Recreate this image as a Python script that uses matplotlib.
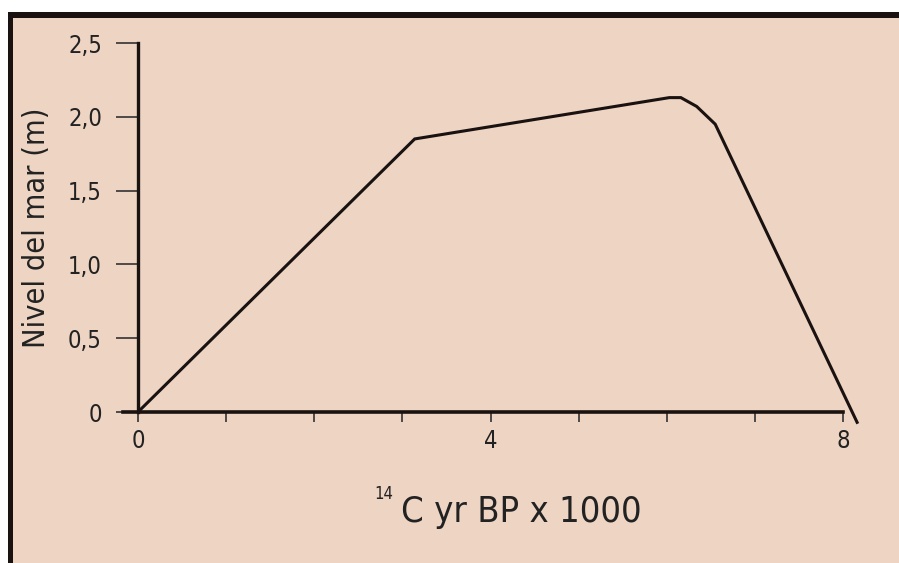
import matplotlib
matplotlib.use("Agg")
import matplotlib.pyplot as plt
from matplotlib import font_manager
from matplotlib.patches import Rectangle

# curva del nivel del mar
edad = [0, 3.14, 6.03, 6.16, 6.34, 6.55, 8.16]
nivel = [0, 1.85, 2.13, 2.13, 2.07, 1.95, -0.07]

xticks = [0, 1, 2, 3, 4, 5, 6, 7, 8]
xlabels = ["0", "", "", "", "4", "", "", "", "8"]
yticks = [0, 0.5, 1.0, 1.5, 2.0, 2.5]
ylabels = ["0", "0,5", "1,0", "1,5", "2,0", "2,5"]

try:
    font_manager.findfont("Liberation Sans Narrow", fallback_to_default=False)
    fuente = dict(family="Liberation Sans Narrow")
except Exception:
    fuente = dict(family="DejaVu Sans", stretch="condensed")

W, H = 899, 563
fondo = "#EED4C3"
negro = "#1a1210"

fig = plt.figure(figsize=(W / 100, H / 100), dpi=100, facecolor="white")

def px(x, y):
    return x / W, 1 - y / H

# marco
fig.patches.append(Rectangle(px(13, 563), (W - 13) / W, (563 - 18) / H,
                             transform=fig.transFigure, facecolor=fondo, edgecolor="none", zorder=-2))
fig.patches.append(Rectangle(px(8, 563), 5 / W, (563 - 12) / H,
                             transform=fig.transFigure, facecolor=negro, edgecolor="none", zorder=-1))
fig.patches.append(Rectangle(px(8, 18), (W - 8) / W, 6 / H,
                             transform=fig.transFigure, facecolor=negro, edgecolor="none", zorder=-1))

ux = (843 - 138) / 8
uy = (412 - 43) / 2.5
x0, x1 = -0.2, 8.2
y0, y1 = -0.1, 2.55
left = (138 + x0 * ux) / W
width = (x1 - x0) * ux / W
bottom = (563 - (412 - y0 * uy)) / H
height = (y1 - y0) * uy / H
ax = fig.add_axes([left, bottom, width, height])
ax.set_zorder(2)
ax.set_facecolor("none")
ax.set_xlim(x0, x1)
ax.set_ylim(y0, y1)

ax.plot(edad, nivel, color=negro, lw=2.2, clip_on=False, solid_joinstyle="miter")

for s in ["top", "right"]:
    ax.spines[s].set_visible(False)
ax.spines["left"].set_position(("data", 0))
ax.spines["bottom"].set_position(("data", 0))
ax.spines["left"].set_bounds(0, 2.5)
ax.spines["bottom"].set_bounds(-0.17, 8)
ax.spines["left"].set_linewidth(2.4)
ax.spines["bottom"].set_linewidth(2.6)
ax.spines["left"].set_color(negro)
ax.spines["bottom"].set_color(negro)

ax.set_xticks(xticks)
ax.set_xticklabels(xlabels, fontsize=17, color="#222222", **fuente)
ax.set_yticks(yticks)
ax.set_yticklabels(ylabels, fontsize=17, color="#222222", **fuente)
ax.tick_params(axis="x", direction="out", length=7, width=1.2, color="#333333", pad=5)
ax.tick_params(axis="y", direction="out", length=16, width=1.2, color="#333333", pad=10)

fig.text(*px(37, 228), "Nivel del mar (m)", rotation=90, ha="center", va="center",
         fontsize=22, color="#222222", **fuente)
fig.text(*px(374, 499), "14", ha="left", va="baseline", fontsize=12, color="#222222", **fuente)
fig.text(*px(401, 522), "C yr BP x 1000", ha="left", va="baseline", fontsize=26,
         color="#222222", **fuente)

fig.savefig("out.png", dpi=100, facecolor="white")
